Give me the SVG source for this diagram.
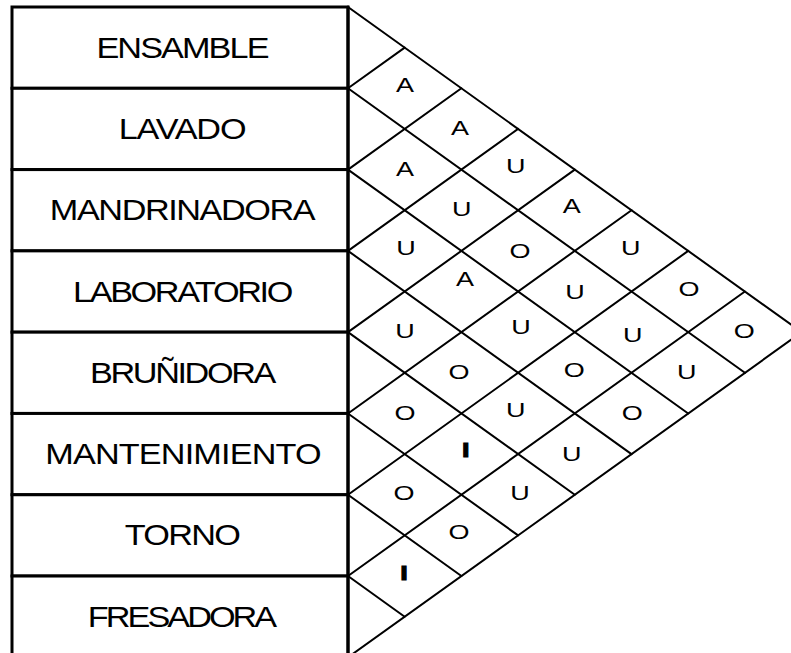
<svg xmlns="http://www.w3.org/2000/svg" width="791" height="653" viewBox="0 0 791 653">
<style>
.box{fill:#fff;stroke:#000;stroke-width:3}
.grid line{stroke:#000;stroke-width:2;stroke-linecap:round}
.dept{font-family:"Liberation Sans",Arial,sans-serif;font-size:29px;text-anchor:middle;fill:#000}
.r{font-family:"Liberation Sans",Arial,sans-serif;font-size:20px;text-anchor:middle;fill:#000}
.ri{font-weight:bold;stroke:#000;stroke-width:1}
</style>
<rect width="791" height="653" fill="#fff"/>
<g id="departments">
<g id="dept-ensamble"><rect class="box" x="12" y="7" width="336" height="81.29"/><text class="dept" transform="translate(182,57.6) scale(1.18,1)" letter-spacing="-1.6">ENSAMBLE</text></g>
<g id="dept-lavado"><rect class="box" x="12" y="88.29" width="336" height="81.29"/><text class="dept" transform="translate(182,138.9) scale(1.18,1)" letter-spacing="-1">LAVADO</text></g>
<g id="dept-mandrinadora"><rect class="box" x="12" y="169.58" width="336" height="81.29"/><text class="dept" transform="translate(182,220.2) scale(1.18,1)" letter-spacing="-1.2">MANDRINADORA</text></g>
<g id="dept-laboratorio"><rect class="box" x="12" y="250.87" width="336" height="81.29"/><text class="dept" transform="translate(182,301.5) scale(1.18,1)" letter-spacing="-2">LABORATORIO</text></g>
<g id="dept-brunidora"><rect class="box" x="12" y="332.16" width="336" height="81.29"/><text class="dept" transform="translate(182,382.8) scale(1.18,1)" letter-spacing="-2">BRUÑIDORA</text></g>
<g id="dept-mantenimiento"><rect class="box" x="12" y="413.45" width="336" height="81.29"/><text class="dept" transform="translate(183,464.1) scale(1.18,1)" letter-spacing="-0.7">MANTENIMIENTO</text></g>
<g id="dept-torno"><rect class="box" x="12" y="494.74" width="336" height="81.29"/><text class="dept" transform="translate(182,545.4) scale(1.18,1)" letter-spacing="-1.4">TORNO</text></g>
<g id="dept-fresadora"><rect class="box" x="12" y="576.03" width="336" height="81.29"/><text class="dept" transform="translate(181,626.7) scale(1.18,1)" letter-spacing="-2.5">FRESADORA</text></g>
</g>
<g id="grid" class="grid">
<line x1="348" y1="7" x2="801.6" y2="332.2"/>
<line x1="348" y1="88.29" x2="744.9" y2="372.8"/>
<line x1="348" y1="169.58" x2="688.2" y2="413.5"/>
<line x1="348" y1="250.87" x2="631.5" y2="454.1"/>
<line x1="348" y1="332.16" x2="574.8" y2="494.7"/>
<line x1="348" y1="413.45" x2="518.1" y2="535.4"/>
<line x1="348" y1="494.74" x2="461.4" y2="576.0"/>
<line x1="348" y1="576.03" x2="404.7" y2="616.7"/>
<line x1="348" y1="88.29" x2="404.7" y2="47.65"/>
<line x1="348" y1="169.58" x2="461.4" y2="88.3"/>
<line x1="348" y1="250.87" x2="518.1" y2="128.9"/>
<line x1="348" y1="332.16" x2="574.8" y2="169.6"/>
<line x1="348" y1="413.45" x2="631.5" y2="210.2"/>
<line x1="348" y1="494.74" x2="688.2" y2="250.9"/>
<line x1="348" y1="576.03" x2="744.9" y2="291.5"/>
<line x1="348" y1="657.32" x2="801.6" y2="332.2"/>
<line x1="348" y1="7" x2="348" y2="660" style="stroke-width:3"/>
</g>
<g id="ratings">
<text class="r" transform="translate(405,92) scale(1.35,1)">A</text>
<text class="r" transform="translate(460,134.7) scale(1.35,1)">A</text>
<text class="r" transform="translate(405,176.3) scale(1.35,1)">A</text>
<text class="r" transform="translate(515.7,172.7) scale(1.35,1)">U</text>
<text class="r" transform="translate(461.7,216.3) scale(1.35,1)">U</text>
<text class="r" transform="translate(571.7,212.7) scale(1.35,1)">A</text>
<text class="r" transform="translate(406,254.7) scale(1.35,1)">U</text>
<text class="r" transform="translate(520,257.7) scale(1.35,1)">O</text>
<text class="r" transform="translate(630.7,254.7) scale(1.35,1)">U</text>
<text class="r" transform="translate(465,286.3) scale(1.35,1)">A</text>
<text class="r" transform="translate(575,299.3) scale(1.35,1)">U</text>
<text class="r" transform="translate(689,296.3) scale(1.35,1)">O</text>
<text class="r" transform="translate(405,338) scale(1.35,1)">U</text>
<text class="r" transform="translate(521,333.7) scale(1.35,1)">U</text>
<text class="r" transform="translate(632.7,342) scale(1.35,1)">U</text>
<text class="r" transform="translate(744.3,338) scale(1.35,1)">O</text>
<text class="r" transform="translate(459,378.7) scale(1.35,1)">O</text>
<text class="r" transform="translate(574.3,377) scale(1.35,1)">O</text>
<text class="r" transform="translate(686.7,378.7) scale(1.35,1)">U</text>
<text class="r" transform="translate(405,420.3) scale(1.35,1)">O</text>
<text class="r" transform="translate(515.7,417) scale(1.35,1)">U</text>
<text class="r" transform="translate(632.3,419.7) scale(1.35,1)">O</text>
<text class="r ri" transform="translate(465.7,457) scale(1.35,1)">I</text>
<text class="r" transform="translate(571.7,461.3) scale(1.35,1)">U</text>
<text class="r" transform="translate(404,499.7) scale(1.35,1)">O</text>
<text class="r" transform="translate(520,499.7) scale(1.35,1)">U</text>
<text class="r" transform="translate(459,538.7) scale(1.35,1)">O</text>
<text class="r ri" transform="translate(404,579.7) scale(1.35,1)">I</text>
</g>
</svg>
